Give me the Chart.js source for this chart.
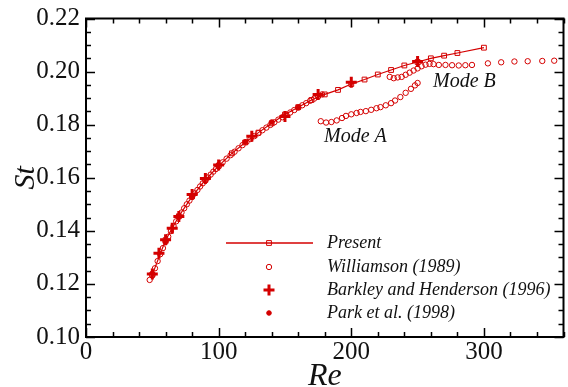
<!DOCTYPE html>
<html>
<head>
<meta charset="utf-8">
<script src="https://cdn.jsdelivr.net/npm/chart.js@4"></script>
<style>
  html, body { margin: 0; padding: 0; background: #fff; overflow: hidden; }
  #wrap { width: 572px; height: 387px; position: relative; }
</style>
</head>
<body>
<div id="wrap"><canvas id="myChart"></canvas></div>
<script>
// Present (line + squares)
const presentRe = [50, 60, 70, 80, 90, 100, 110, 120, 130, 140, 150, 160, 170, 180, 190, 200, 210, 220, 230, 240, 250, 260, 270, 280, 300];
const presentSt = [0.1235, 0.1365, 0.1455, 0.1530, 0.1592, 0.1645, 0.1692, 0.1733, 0.1770, 0.1805, 0.1838, 0.1866, 0.1893, 0.1914, 0.1931, 0.1953, 0.1970, 0.1989, 0.2006, 0.2023, 0.2036, 0.2050, 0.2060, 0.2070, 0.2090];

// Williamson (1989): main branch, mode A branch, mode B branch
const williamsonRe = [48, 50, 52, 54, 56, 58, 60, 62, 64, 66, 68, 70, 72, 74, 76, 78, 80, 82, 84, 86, 88, 90, 92, 94, 96, 98, 100, 103, 106, 109, 112, 115, 118, 121, 124, 127, 130, 133, 136, 139, 142, 145, 148, 151, 154, 157, 160, 163, 166, 169, 172, 175, 178,
  177, 181, 185, 189, 193, 196, 200, 204, 207, 211, 215, 219, 222, 226, 230, 233, 237, 241, 245, 248, 250,
  229, 232, 235, 238, 241, 244, 247, 250, 253, 256, 259, 262, 266, 271, 276, 281, 286, 291, 303, 313, 323, 333, 344, 353];
const williamsonSt = [0.1215, 0.1232, 0.1259, 0.1286, 0.1312, 0.1335, 0.1358, 0.1378, 0.1399, 0.1418, 0.1436, 0.1453, 0.1469, 0.1485, 0.1500, 0.1514, 0.1528, 0.1541, 0.1554, 0.1567, 0.1579, 0.1590, 0.1601, 0.1612, 0.1623, 0.1633, 0.1643, 0.1658, 0.1672, 0.1685, 0.1698, 0.1711, 0.1723, 0.1735, 0.1746, 0.1757, 0.1768, 0.1779, 0.1789, 0.1799, 0.1809, 0.1819, 0.1828, 0.1838, 0.1846, 0.1855, 0.1864, 0.1873, 0.1881, 0.1890, 0.1898, 0.1906, 0.1914,
  0.1813, 0.1808, 0.1810, 0.1816, 0.1825, 0.1833, 0.1839, 0.1844, 0.1848, 0.1851, 0.1856, 0.1862, 0.1866, 0.1873, 0.1881, 0.1891, 0.1904, 0.1920, 0.1935, 0.1948, 0.1957,
  0.1980, 0.1975, 0.1978, 0.1980, 0.1988, 0.1996, 0.2004, 0.2012, 0.2020, 0.2026, 0.2029, 0.2028, 0.2025, 0.2025, 0.2024, 0.2023, 0.2024, 0.2025, 0.2031, 0.2035, 0.2038, 0.2039, 0.2040, 0.2041];

// Barkley and Henderson (1996)
const barkleyRe = [50, 55, 60, 65, 70, 80, 90, 100, 125, 150, 175, 200, 250];
const barkleySt = [0.1237, 0.1316, 0.1366, 0.1410, 0.1454, 0.1537, 0.1597, 0.1648, 0.1756, 0.1831, 0.1914, 0.1960, 0.2038];

// Park et al. (1998)
const parkRe = [50, 60, 80, 100, 120, 140, 160];
const parkSt = [0.1240, 0.1360, 0.1530, 0.1650, 0.1735, 0.1810, 0.1866];

const xTicks = [0, 100, 200, 300];
const yTicks = [0.10, 0.12, 0.14, 0.16, 0.18, 0.20, 0.22];
const seriesNames = ['Present', 'Williamson (1989)', 'Barkley and Henderson (1996)', 'Park et al. (1998)'];

const red = '#d40000';
const serif = "'Liberation Serif', 'Times New Roman', serif";
const toPoints = (xs, ys) => xs.map((x, i) => ({ x: x, y: ys[i] }));

// frame, inward ticks, labels and legend
const decorPlugin = {
    id: 'decor',
    afterDatasetsDraw(chart) {
        const { ctx, chartArea: a, scales } = chart;
        const sx = scales.x, sy = scales.y;
        ctx.save();
        ctx.strokeStyle = '#000';
        ctx.lineWidth = 1.5;
        ctx.beginPath();
        for (let v = 0; v <= 360; v += 20) {
            const px = Math.round(sx.getPixelForValue(v)) + 0.5;
            const len = v % 100 === 0 ? 9 : 5;
            ctx.moveTo(px, a.bottom); ctx.lineTo(px, a.bottom - len);
            ctx.moveTo(px, a.top); ctx.lineTo(px, a.top + len);
        }
        for (let i = 0; i <= 24; i++) {
            const py = Math.round(sy.getPixelForValue(0.10 + i * 0.005)) + 0.5;
            const len = i % 4 === 0 ? 9 : 5;
            ctx.moveTo(a.left, py); ctx.lineTo(a.left + len, py);
            ctx.moveTo(a.right, py); ctx.lineTo(a.right - len, py);
        }
        ctx.stroke();
        ctx.lineWidth = 2;
        ctx.strokeRect(a.left, a.top, a.right - a.left, a.bottom - a.top);

        // Mode labels
        ctx.fillStyle = '#111';
        ctx.font = 'italic 20px ' + serif;
        ctx.textBaseline = 'alphabetic';
        ctx.textAlign = 'left';
        ctx.fillText('Mode A', 324, 142);
        ctx.fillText('Mode B', 433, 87);

        // legend
        const rowY = [243, 267, 290, 313];
        const symX = 269;
        ctx.font = 'italic 18px ' + serif;
        ctx.textBaseline = 'middle';
        chart.data.datasets.forEach((ds, i) => {
            const y = rowY[i];
            if (ds.showLine) {
                ctx.strokeStyle = red;
                ctx.lineWidth = 1.5;
                ctx.beginPath();
                ctx.moveTo(226, y); ctx.lineTo(313, y);
                ctx.stroke();
            }
            ctx.lineWidth = ds.pointBorderWidth;
            ctx.strokeStyle = red;
            ctx.fillStyle = ds.pointBackgroundColor;
            Chart.helpers.drawPoint(ctx, {
                pointStyle: ds.pointStyle, rotation: 0,
                radius: ds.pointRadius, borderWidth: ds.pointBorderWidth
            }, symX, y);
            ctx.fillStyle = '#111';
            ctx.fillText(ds.label, 327, y);
        });
        ctx.restore();
    }
};

new Chart(document.getElementById('myChart'), {
    type: 'scatter',
    data: {
        datasets: [
            {
                label: seriesNames[0],
                data: toPoints(presentRe, presentSt),
                showLine: true,
                borderColor: red, borderWidth: 1.2,
                pointStyle: 'rect', pointRadius: 3.4,
                pointBorderColor: red, pointBackgroundColor: 'rgba(255,255,255,0)',
                pointBorderWidth: 1, order: 1
            },
            {
                label: seriesNames[1],
                data: toPoints(williamsonRe, williamsonSt),
                showLine: false,
                pointStyle: 'circle', pointRadius: 2.7,
                pointBorderColor: red, pointBackgroundColor: 'rgba(255,255,255,0)',
                pointBorderWidth: 1, order: 3
            },
            {
                label: seriesNames[2],
                data: toPoints(barkleyRe, barkleySt),
                showLine: false,
                pointStyle: 'cross', pointRadius: 5.5,
                pointBorderColor: red, pointBackgroundColor: red,
                pointBorderWidth: 3, order: 2
            },
            {
                label: seriesNames[3],
                data: toPoints(parkRe, parkSt),
                showLine: false,
                pointStyle: 'circle', pointRadius: 2.3,
                pointBorderColor: red, pointBackgroundColor: red,
                pointBorderWidth: 1, order: 4
            }
        ]
    },
    options: {
        responsive: true,
        maintainAspectRatio: false,
        animation: false,
        layout: { padding: { top: 16, right: 2, left: 0, bottom: 0 } },
        plugins: { legend: { display: false }, tooltip: { enabled: false } },
        scales: {
            x: {
                type: 'linear', min: 0, max: 360,
                grid: { display: false, drawTicks: false },
                border: { display: false },
                afterBuildTicks: (s) => { s.ticks = xTicks.map((v) => ({ value: v })); },
                afterFit: (s) => { s.height = 50; },
                ticks: { color: '#111', padding: 3, maxRotation: 0, font: { family: serif, size: 25, lineHeight: 1 } },
                title: { display: true, text: 'Re', color: '#111', padding: { top: 0, bottom: -6 }, font: { family: serif, size: 32, style: 'italic', lineHeight: 1 } }
            },
            y: {
                type: 'linear', min: 0.10, max: 0.22,
                grid: { display: false, drawTicks: false },
                border: { display: false },
                afterBuildTicks: (s) => { s.ticks = yTicks.map((v) => ({ value: v })); },
                afterFit: (s) => { s.width = 86; },
                ticks: { color: '#111', padding: 6, font: { family: serif, size: 25, lineHeight: 1 }, callback: (v) => Number(v).toFixed(2) },
                title: { display: true, text: 'St', color: '#111', padding: { top: 11, bottom: 0 }, font: { family: serif, size: 30, style: 'italic', lineHeight: 1 } }
            }
        }
    },
    plugins: [decorPlugin]
});
</script>
</body>
</html>
